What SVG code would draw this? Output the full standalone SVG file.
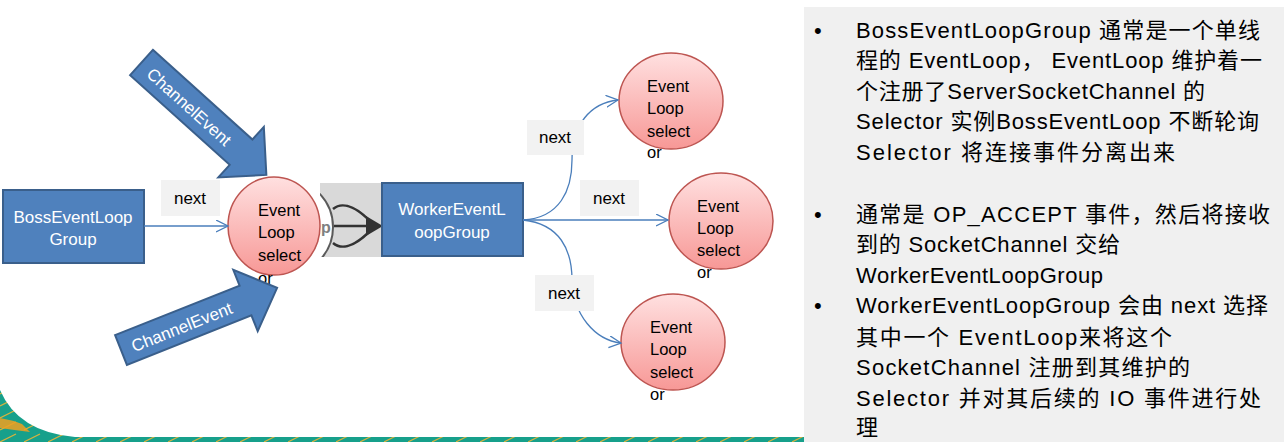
<svg xmlns="http://www.w3.org/2000/svg" width="1284" height="442" viewBox="0 0 1284 442">
<style>
.box{fill:#4f81bd;stroke:#3a5f8b;stroke-width:2}
.bt{font-family:"Liberation Sans",Arial,sans-serif;font-size:17px;fill:#fff;text-anchor:middle}
.ell{fill:url(#pink);stroke:#bd5551;stroke-width:1.5}
.ct{font-family:"Liberation Sans",Arial,sans-serif;font-size:16.5px;fill:#000}
.lbl{fill:#f2f2f2}
.lt{font-family:"Liberation Sans",Arial,sans-serif;font-size:17px;fill:#000;text-anchor:middle}
.con{fill:none;stroke:#4a7ebb;stroke-width:1.3}
.blk{fill:#4f81bd;stroke:#3a5f8b;stroke-width:2;stroke-linejoin:miter}
.at{font-family:"Liberation Sans",Arial,sans-serif;font-size:17px;fill:#fff;text-anchor:middle}
.pt{font-family:"Liberation Sans","Noto Sans CJK SC",sans-serif;font-size:22px;fill:#000}
</style>
<defs>
<linearGradient id="pink" x1="0" y1="0" x2="0" y2="1">
<stop offset="0" stop-color="#ffe0e0"/>
<stop offset="1" stop-color="#f79896"/>
</linearGradient>
<marker id="open" markerUnits="userSpaceOnUse" markerWidth="14" markerHeight="14" refX="12" refY="6" orient="auto">
<path d="M0,0 L12,6 L0,12" fill="none" stroke="#4a7ebb" stroke-width="1.3"/>
</marker>
<clipPath id="imgclip"><rect x="320" y="183" width="62" height="74"/></clipPath>
<pattern id="deco" width="24" height="12" patternUnits="userSpaceOnUse">
<rect width="24" height="12" fill="#17a08b"/>
<path d="M0,10 L16,2" stroke="#d9b23c" stroke-width="1.2"/>
</pattern>
</defs>
<rect width="1284" height="442" fill="#ffffff"/>
<g id="decoration">
<path d="M0,390 Q18,432 75,437 L804,437 L804,442 L0,442 Z" fill="url(#deco)"/>
<path d="M0,418 Q12,420 22,424 L30,432 Q14,430 0,428 Z" fill="#f0a020" opacity="0.85"/>
</g>
<rect id="panel" x="804" y="7" width="480" height="435" fill="#f0f0f0"/>

<g id="partial-image">
<rect x="320" y="183" width="62" height="74" fill="#d9d9d9"/>
<g clip-path="url(#imgclip)">
<circle cx="285" cy="227" r="48" fill="#ffffff" stroke="#5a5a5a" stroke-width="2"/>
<text x="321" y="233" font-family="Liberation Sans,Arial,sans-serif" font-size="16" font-weight="bold" fill="#808080">p</text>
<path d="M333,209 C340,203 352,203 370,221" fill="none" stroke="#333" stroke-width="2.5"/>
<path d="M333,243 C340,249 352,249 370,231" fill="none" stroke="#333" stroke-width="2.5"/>
<path d="M334,226 L370,226" fill="none" stroke="#333" stroke-width="2.5"/>
<path d="M366,216 L383,226 L366,236 Z" fill="#333"/>
</g>
</g>

<g id="node-boss">
<rect class="box" x="3" y="190" width="141" height="73"/>
<text class="bt" x="73" y="223" font-size="16.5">BossEventLoop</text>
<text class="bt" x="73" y="245" font-size="16.5">Group</text>
</g>

<g id="node-loop-main">
<ellipse class="ell" cx="274" cy="226" rx="46" ry="49"/>
<text class="ct" x="258" y="216">Event</text>
<text class="ct" x="258" y="238">Loop</text>
<text class="ct" x="258" y="261">select</text>
<text class="ct" x="258" y="284">or</text>
</g>

<g id="node-worker">
<rect class="box" x="382" y="183" width="141" height="73"/>
<text class="bt" x="452" y="215">WorkerEventL</text>
<text class="bt" x="452" y="238">oopGroup</text>
</g>

<g id="node-loop-1">
<ellipse class="ell" cx="671" cy="101" rx="52" ry="48"/>
<text class="ct" x="647" y="92">Event</text>
<text class="ct" x="647" y="114">Loop</text>
<text class="ct" x="647" y="137">select</text>
<text class="ct" x="647" y="158">or</text>
</g>
<g id="node-loop-2">
<ellipse class="ell" cx="721" cy="221" rx="52" ry="48"/>
<text class="ct" x="697" y="212">Event</text>
<text class="ct" x="697" y="234">Loop</text>
<text class="ct" x="697" y="256">select</text>
<text class="ct" x="697" y="278">or</text>
</g>
<g id="node-loop-3">
<ellipse class="ell" cx="673" cy="342" rx="52" ry="48"/>
<text class="ct" x="650" y="333">Event</text>
<text class="ct" x="650" y="355">Loop</text>
<text class="ct" x="650" y="378">select</text>
<text class="ct" x="650" y="400">or</text>
</g>

<g id="connectors">
<path class="con" d="M144,226 L228,226" marker-end="url(#open)"/>
<path class="con" d="M523,220 C560,218 572,190 572,160 C572,125 590,103 618,100" marker-end="url(#open)"/>
<path class="con" d="M523,220 L668,220" marker-end="url(#open)"/>
<path class="con" d="M523,220 C560,224 572,250 572,280 C573,315 595,340 621,343" marker-end="url(#open)"/>
</g>

<g id="labels">
<rect class="lbl" x="161" y="180" width="59" height="36"/>
<text class="lt" x="190" y="204">next</text>
<rect class="lbl" x="527" y="120" width="57" height="35"/>
<text class="lt" x="555" y="143">next</text>
<rect class="lbl" x="580" y="180" width="59" height="36"/>
<text class="lt" x="609" y="204">next</text>
<rect class="lbl" x="535" y="275" width="59" height="36"/>
<text class="lt" x="564" y="299">next</text>
</g>

<g id="channel-event-top" transform="translate(141.5,62.5) rotate(42)">
<polygon class="blk" points="0,-17 134,-17 134,-34 168,0 134,34 134,17 0,17"/>
<text class="at" x="65" y="7">ChannelEvent</text>
</g>
<g id="channel-event-bottom" transform="translate(121,350) rotate(-21.7)">
<polygon class="blk" points="0,-16 134,-16 134,-33 168,0 134,33 134,16 0,16"/>
<text class="at" x="65" y="7">ChannelEvent</text>
</g>

<g id="notes">
<text class="pt" x="814" y="38">•</text>
<text class="pt" x="856" y="38" textLength="404" lengthAdjust="spacing">BossEventLoopGroup 通常是一个单线</text>
<text class="pt" x="856" y="68" textLength="406" lengthAdjust="spacing">程的 EventLoop， EventLoop 维护着一</text>
<text class="pt" x="856" y="99" textLength="349" lengthAdjust="spacing">个注册了ServerSocketChannel 的</text>
<text class="pt" x="856" y="129" textLength="403" lengthAdjust="spacing">Selector 实例BossEventLoop 不断轮询</text>
<text class="pt" x="856" y="160" textLength="319" lengthAdjust="spacing">Selector 将连接事件分离出来</text>
<text class="pt" x="814" y="222">•</text>
<text class="pt" x="856" y="222" textLength="414" lengthAdjust="spacing">通常是 OP_ACCEPT 事件，然后将接收</text>
<text class="pt" x="856" y="252" textLength="264" lengthAdjust="spacing">到的 SocketChannel 交给</text>
<text class="pt" x="856" y="283" textLength="247" lengthAdjust="spacing">WorkerEventLoopGroup</text>
<text class="pt" x="814" y="313">•</text>
<text class="pt" x="856" y="313" textLength="412" lengthAdjust="spacing">WorkerEventLoopGroup 会由 next 选择</text>
<text class="pt" x="856" y="345" textLength="316" lengthAdjust="spacing">其中一个 EventLoop来将这个</text>
<text class="pt" x="856" y="375" textLength="334" lengthAdjust="spacing">SocketChannel 注册到其维护的</text>
<text class="pt" x="856" y="406" textLength="405" lengthAdjust="spacing">Selector 并对其后续的 IO 事件进行处</text>
<text class="pt" x="856" y="435">理</text>
</g>
</svg>
